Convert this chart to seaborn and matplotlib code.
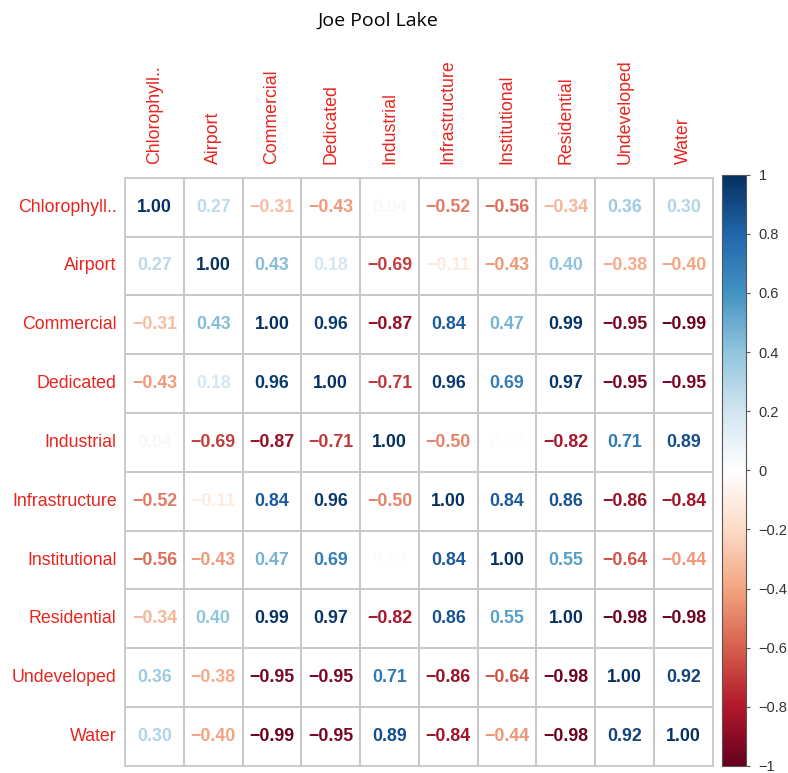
import numpy as np
import pandas as pd
import matplotlib
matplotlib.use("Agg")
import matplotlib.pyplot as plt
from matplotlib.colors import LinearSegmentedColormap, ListedColormap, Normalize
from matplotlib.cm import ScalarMappable
import seaborn as sns

row_labels = ["Chlorophyll..", "Airport", "Commercial", "Dedicated", "Industrial",
              "Infrastructure", "Institutional", "Residential", "Undeveloped", "Water"]
col_labels = row_labels

chlorophyll    = [1.00, 0.27, -0.31, -0.43, 0.04, -0.52, -0.56, -0.34, 0.36, 0.30]
airport        = [0.27, 1.00, 0.43, 0.18, -0.69, -0.11, -0.43, 0.40, -0.38, -0.40]
commercial     = [-0.31, 0.43, 1.00, 0.96, -0.87, 0.84, 0.47, 0.99, -0.95, -0.99]
dedicated      = [-0.43, 0.18, 0.96, 1.00, -0.71, 0.96, 0.69, 0.97, -0.95, -0.95]
industrial     = [0.04, -0.69, -0.87, -0.71, 1.00, -0.50, 0.02, -0.82, 0.71, 0.89]
infrastructure = [-0.52, -0.11, 0.84, 0.96, -0.50, 1.00, 0.84, 0.86, -0.86, -0.84]
institutional  = [-0.56, -0.43, 0.47, 0.69, 0.02, 0.84, 1.00, 0.55, -0.64, -0.44]
residential    = [-0.34, 0.40, 0.99, 0.97, -0.82, 0.86, 0.55, 1.00, -0.98, -0.98]
undeveloped    = [0.36, -0.38, -0.95, -0.95, 0.71, -0.86, -0.64, -0.98, 1.00, 0.92]
water          = [0.30, -0.40, -0.99, -0.95, 0.89, -0.84, -0.44, -0.98, 0.92, 1.00]

cbar_ticks = [-1, -0.8, -0.6, -0.4, -0.2, 0, 0.2, 0.4, 0.6, 0.8, 1]

data = pd.DataFrame([chlorophyll, airport, commercial, dedicated, industrial,
                     infrastructure, institutional, residential, undeveloped, water],
                    index=row_labels, columns=col_labels)

corr_colors = ["#67001F", "#B2182B", "#D6604D", "#F4A582", "#FDDBC7", "#FFFFFF",
               "#D1E5F0", "#92C5DE", "#4393C3", "#2166AC", "#053061"]
cmap = LinearSegmentedColormap.from_list("corrRdBu", corr_colors, N=256)
norm = Normalize(vmin=-1, vmax=1)

sns.set_style("white")
plt.rcParams['font.family'] = ['Liberation Sans', 'DejaVu Sans']

fig = plt.figure(figsize=(7.88, 7.73), dpi=100)
ax = fig.add_axes([0.1586, 0.0091, 0.746, 0.761])
cax = fig.add_axes([0.9162, 0.0091, 0.0305, 0.765])

def fmt(v):
    s = f"{v:.2f}"
    return s.replace("-", "\u2212")

annot = np.array([[fmt(v) for v in row] for row in data.values])

sns.heatmap(data, ax=ax, cmap=ListedColormap(["white"]), vmin=-1, vmax=1,
            cbar=False, annot=annot, fmt="", linewidths=1.2, linecolor="#C8C8C8",
            annot_kws={"fontsize": 12.8, "fontweight": "bold"})

vals = data.values.flatten()
for t, v in zip(ax.texts, vals):
    t.set_color(cmap(norm(v)))

ax.xaxis.tick_top()
ax.set_xticklabels(col_labels, rotation=90, color="#E8241E", fontsize=12.8)
ax.set_yticklabels(row_labels, rotation=0, color="#E8241E", fontsize=12.8)
ax.tick_params(axis="x", length=0, pad=10)
ax.tick_params(axis="y", length=0, pad=6)
ax.set_xlabel("")
ax.set_ylabel("")
for sp in ax.spines.values():
    sp.set_visible(True)
    sp.set_color("#C8C8C8")
    sp.set_linewidth(1.2)

sm = ScalarMappable(norm=norm, cmap=cmap)
cb = fig.colorbar(sm, cax=cax, ticks=cbar_ticks)
cb.ax.set_yticklabels([("%g" % t).replace("-", "\u2212") for t in cbar_ticks],
                      fontsize=10.5, color="#333333")
cb.ax.tick_params(length=3, width=0.8, color="#555555", pad=6)
cb.outline.set_edgecolor("#555555")
cb.outline.set_linewidth(0.8)

fig.text(0.48, 0.973, "Joe Pool Lake", ha="center", va="center",
         fontsize=14, family=["Open Sans", "DejaVu Sans"], color="black")

fig.savefig("out.png", dpi=100)
